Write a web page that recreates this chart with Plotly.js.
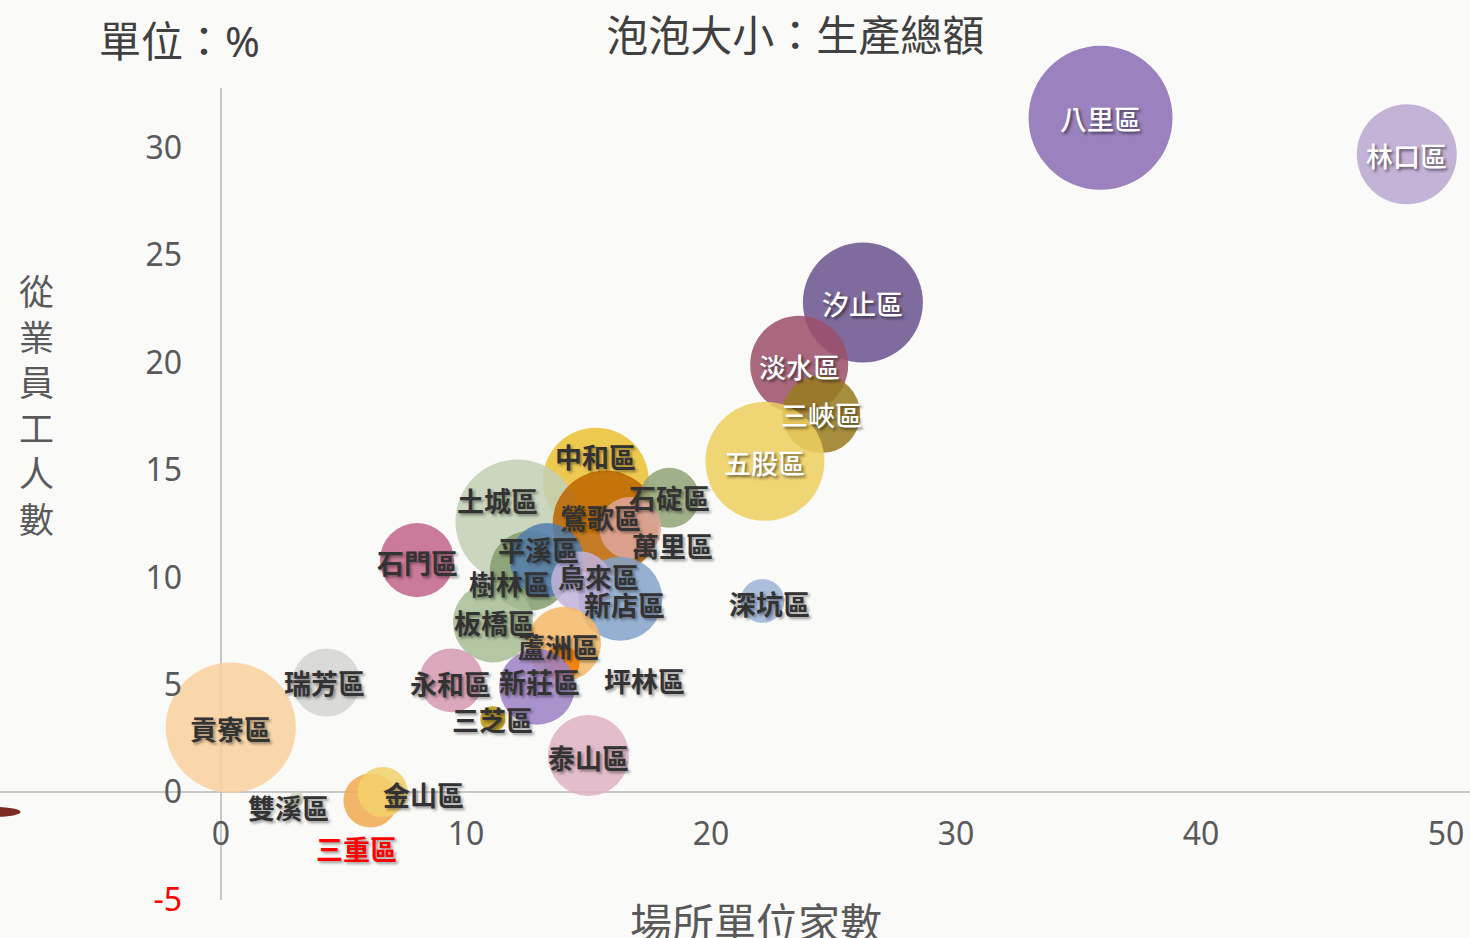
<!DOCTYPE html>
<html>
<head>
<meta charset="utf-8">
<script src="https://cdn.plot.ly/plotly-3.0.1.min.js"></script>
<style>
  html, body { margin: 0; padding: 0; background: #fafaf9; }
  #chart { width: 1470px; height: 938px; }
</style>
</head>
<body>
<div id="chart"></div>
<script>
// 新北市各區：場所單位家數、從業員工人數、生產總額 變動 (%)
const districts = ["八里區", "林口區", "汐止區", "淡水區", "三峽區", "五股區", "深坑區", "中和區",
  "土城區", "鶯歌區", "石碇區", "萬里區", "石門區", "樹林區", "板橋區", "平溪區", "新店區",
  "烏來區", "蘆洲區", "坪林區", "新莊區", "永和區", "三芝區", "泰山區", "瑞芳區", "貢寮區",
  "雙溪區", "三重區", "金山區"];
const establishments = [35.9, 48.4, 26.2, 23.6, 24.5, 22.2, 22.1, 15.3,
  12.1, 15.7, 18.3, 16.7, 8.0, 12.6, 11.1, 13.3, 16.3,
  14.7, 14.0, 13.9, 12.9, 9.4, 11.1, 15.0, 4.3, 0.4,
  3.1, 6.1, 6.6];
const employees = [31.4, 29.7, 22.8, 19.9, 17.6, 15.4, 8.9, 14.5,
  12.6, 12.5, 13.7, 12.3, 10.8, 10.3, 7.9, 10.8, 9.0,
  9.8, 6.9, 6.0, 4.9, 5.2, 3.4, 1.7, 5.1, 3.0,
  -0.3, -0.4, 0.0];
const output = [51.8, 25.0, 36.0, 24.0, 15.2, 35.4, 4.8, 28.1,
  38.4, 28.1, 9.0, 9.6, 13.7, 16.0, 16.0, 13.7, 17.6,
  9.0, 13.7, 3.2, 14.4, 10.2, 1.6, 16.4, 11.6, 42.3,
  0.5, 7.3, 6.3];

const xTicks = [0, 10, 20, 30, 40, 50];
const yTicks = [-5, 0, 5, 10, 15, 20, 25, 30];

// colour of each bubble as it looks on the page
const colors = ["#9a80be", "#c2b3d8", "#7f6a9e", "#a8677e", "#a58e3e", "#efd475", "#a9bedc", "#edc850",
  "#c9d5be", "#c57a1c", "#9fb08a", "#e2b2aa", "#c9799a", "#93aa82", "#b3c6a4", "#6a8fb8", "#94afd2",
  "#c9bce0", "#f5c27d", "#f28c1c", "#a991cd", "#d9a7bd", "#c3a22f", "#e3bccc", "#d9d9d9", "#f9d6aa",
  "#d5dec8", "#f2b46a", "#f2d67e"];
const labelColors = ["#fff", "#fff", "#fff", "#fff", "#fff", "#fff", "#333", "#333",
  "#333", "#333", "#333", "#333", "#333", "#333", "#333", "#333", "#333",
  "#333", "#333", "#333", "#333", "#333", "#333", "#333", "#333", "#333",
  "#333", "#f00", "#333"];
// label offset from bubble centre, in px [right, down]
const labelShift = [[0, 1], [0, 1], [0, 1], [0, 2], [0, 0], [0, 1], [7, 3], [0, -24],
  [-20, -21], [-5, -6], [0, 0], [42, 18], [1, 2], [-20, 13], [2, 0], [-8, -11], [4, 6],
  [17, -5], [-5, 3], [83, 17], [2, -5], [-1, 3], [0, 0], [0, 2], [-2, 0], [0, 1],
  [-8, 9], [-14, 48], [41, 2]];

const grayText = "#595959";
const fontFamily = "Noto Sans, Noto Sans CJK TC, sans-serif";
const cjkFamily = "Noto Sans CJK TC, sans-serif";
const alpha = 0.86;

// fill colour that gives the seen colour once blended with the background
function unblend(hex) {
  const bg = 250;
  const ch = [1, 3, 5].map(k => parseInt(hex.slice(k, k + 2), 16));
  const out = ch.map(c => Math.max(0, Math.min(255, Math.round((c - (1 - alpha) * bg) / alpha))));
  return `rgb(${out.join(",")})`;
}

const trace = {
  x: establishments,
  y: employees,
  mode: "markers",
  type: "scatter",
  cliponaxis: false,
  hoverinfo: "skip",
  marker: {
    size: output,
    sizemode: "area",
    sizeref: 0.005,
    color: colors.map(unblend),
    opacity: alpha,
    line: { width: 0 },
  },
};

const labels = districts.map((name, i) => ({
  x: establishments[i],
  y: employees[i],
  xref: "x",
  yref: "y",
  text: name,
  showarrow: false,
  xshift: labelShift[i][0],
  yshift: -labelShift[i][1],
  font: {
    family: cjkFamily,
    size: 27,
    color: labelColors[i],
    weight: labelColors[i] === "#fff" ? 500 : 700,
    shadow: labelColors[i] === "#fff"
      ? "2px 2px 3px rgba(0,0,0,0.55)"
      : "2px 2px 3px rgba(0,0,0,0.4)",
  },
}));

const layout = {
  width: 1470,
  height: 938,
  margin: { l: 0, r: 0, t: 88, b: 38 },
  paper_bgcolor: "#fafaf9",
  plot_bgcolor: "rgba(0,0,0,0)",
  showlegend: false,
  hovermode: false,
  title: {
    text: "泡泡大小：生產總額",
    font: { family: cjkFamily, size: 42, color: "#404040" },
    x: 0.541,
    xanchor: "center",
    y: 0.961,
    yanchor: "middle",
    yref: "container",
  },
  xaxis: {
    range: [-9.02, 50.98],
    anchor: "free",
    position: 0.133,
    showgrid: false,
    showline: false,
    zeroline: true,
    zerolinecolor: "#c8c8c8",
    zerolinewidth: 2,
    ticks: "",
    tickvals: xTicks,
    ticktext: xTicks.map(String),
    ticklabelstandoff: 20,
    tickfont: { family: fontFamily, size: 32, color: grayText },
  },
  yaxis: {
    range: [-5.03, 32.79],
    anchor: "free",
    position: 221 / 1470,
    showgrid: false,
    showline: false,
    zeroline: true,
    zerolinecolor: "#c8c8c8",
    zerolinewidth: 2,
    ticks: "",
    tickvals: yTicks,
    ticktext: yTicks.map(v => v < 0 ? `<span style="color:#ff0000">${v}</span>` : String(v)),
    ticklabelstandoff: 39,
    tickfont: { family: fontFamily, size: 32, color: grayText },
  },
  shapes: [{
    type: "circle",
    xref: "x", yref: "y",
    x0: -10.2, x1: -8.18, y0: -0.7, y1: -1.16,
    fillcolor: "#7a2a22",
    line: { width: 0 },
  }],
  annotations: labels.concat([
    {
      text: "單位：%",
      xref: "paper", yref: "paper",
      x: 0.122, y: 1.059,
      xanchor: "center", yanchor: "middle",
      showarrow: false,
      font: { family: fontFamily, size: 42, color: "#404040" },
    },
    {
      text: "從<br>業<br>員<br>工<br>人<br>數",
      xref: "paper", yref: "paper",
      x: 0.025, y: 0.612,
      xanchor: "center", yanchor: "middle",
      showarrow: false,
      font: { family: cjkFamily, size: 35, color: grayText },
    },
    {
      text: "場所單位家數",
      xref: "paper", yref: "paper",
      x: 756 / 1470, y: -0.025,
      xanchor: "center", yanchor: "middle",
      showarrow: false,
      font: { family: cjkFamily, size: 42, color: grayText },
    },
  ]),
};

Plotly.newPlot("chart", [trace], layout, { displayModeBar: false, staticPlot: true });
</script>
</body>
</html>
